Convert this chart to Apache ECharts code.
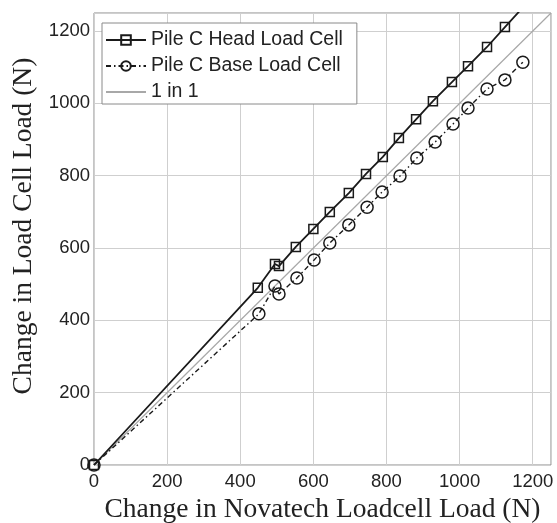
<!DOCTYPE html>
<html>
<head>
<meta charset="utf-8">
<script src="https://cdn.jsdelivr.net/npm/echarts@6/dist/echarts.min.js"></script>
<style>
	html, body { margin: 0; padding: 0; background: #fff; }
	#main { width: 557px; height: 523px; }
</style>
</head>
<body>
<div id="main"></div>
<script>
// readings
var headX = [ 0, 448, 495, 506, 552, 600, 645, 697, 744, 790, 834, 881, 927, 979, 1023, 1075, 1124, 1170 ];
var headY = [ 0, 490, 556, 550, 603, 653, 700, 752, 805, 852, 904, 956, 1006, 1059, 1103, 1156, 1211, 1262 ];
var baseX = [ 0, 451, 495, 506, 555, 602, 645, 697, 747, 788, 837, 883, 933, 982, 1023, 1075, 1124, 1173 ];
var baseY = [ 0, 418, 495, 473, 517, 567, 614, 664, 713, 755, 799, 849, 893, 943, 987, 1040, 1065, 1114 ];
var oneX = [ 0, 1250 ];
var oneY = [ 0, 1250 ];
var names = [ 'Pile C Head Load Cell', 'Pile C Base Load Cell', '1 in 1' ];

function pairs(xs, ys) {
	var out = [];
	for (var i = 0; i < xs.length; i++) {
		out.push([ xs[i], ys[i] ]);
	}
	return out;
}

var sans = 'Liberation Sans';
var serif = 'Liberation Serif';

function axis(extra) {
	var a = {
		type : 'value',
		min : 0,
		max : 1250,
		interval : 200,
		nameLocation : 'middle',
		nameTextStyle : {
			fontFamily : serif,
			fontSize : 27.5,
			color : '#222',
			padding : extra.namePad || 0
		},
		axisLine : { show : false },
		axisTick : { show : false },
		axisLabel : {
			fontFamily : sans,
			fontSize : 18.5,
			color : '#222',
			showMaxLabel : false,
			margin : extra.labelMargin,
			formatter : function(v) {
				return String(v);
			}
		},
		splitLine : {
			lineStyle : { color : '#cfcfcf', width : 1 }
		}
	};
	a.name = extra.name;
	a.nameGap = extra.nameGap;
	return a;
}

var myChart = echarts.init(document.getElementById('main'));
myChart.setOption({
	animation : false,
	grid : {
		left : 94,
		right : 6,
		top : 13,
		bottom : 58,
		outerBoundsMode : 'none',
		show : true,
		borderColor : '#8a8a8a',
		borderWidth : 1
	},
	legend : {
		orient : 'vertical',
		left : 102,
		top : 23,
		data : names,
		itemWidth : 40,
		itemHeight : 12,
		itemGap : 6,
		padding : [ 7, 14, 2, 3 ],
		backgroundColor : '#fff',
		borderColor : '#8a8a8a',
		borderWidth : 1,
		textStyle : {
			fontFamily : sans,
			fontSize : 19.5,
			color : '#222'
		}
	},
	xAxis : axis({
		name : 'Change in Novatech Loadcell Load (N)',
		nameGap : 29,
		labelMargin : 7
	}),
	yAxis : axis({
		name : 'Change in Load Cell Load (N)',
		nameGap : 49,
		labelMargin : 4,
		namePad : [ 0, 0, 0, 26 ]
	}),
	series : [ {
		name : names[0],
		type : 'line',
		data : pairs(headX, headY),
		symbol : 'rect',
		symbolSize : 9,
		lineStyle : { color : '#1a1a1a', width : 1.8 },
		itemStyle : {
			color : 'rgba(0,0,0,0)',
			borderColor : '#1a1a1a',
			borderWidth : 1.5
		},
		z : 4
	}, {
		name : names[1],
		type : 'line',
		data : pairs(baseX, baseY),
		symbol : 'circle',
		symbolSize : 12,
		lineStyle : { color : '#1a1a1a', width : 1.4, type : [ 5, 3, 1.5, 3 ] },
		itemStyle : {
			color : 'rgba(0,0,0,0)',
			borderColor : '#1a1a1a',
			borderWidth : 1.5
		},
		z : 3
	}, {
		name : names[2],
		type : 'line',
		data : pairs(oneX, oneY),
		symbol : 'none',
		lineStyle : { color : '#a8a8a8', width : 1.2 },
		itemStyle : { color : '#a8a8a8', opacity : 0 },
		z : 2
	} ]
});
</script>
</body>
</html>
